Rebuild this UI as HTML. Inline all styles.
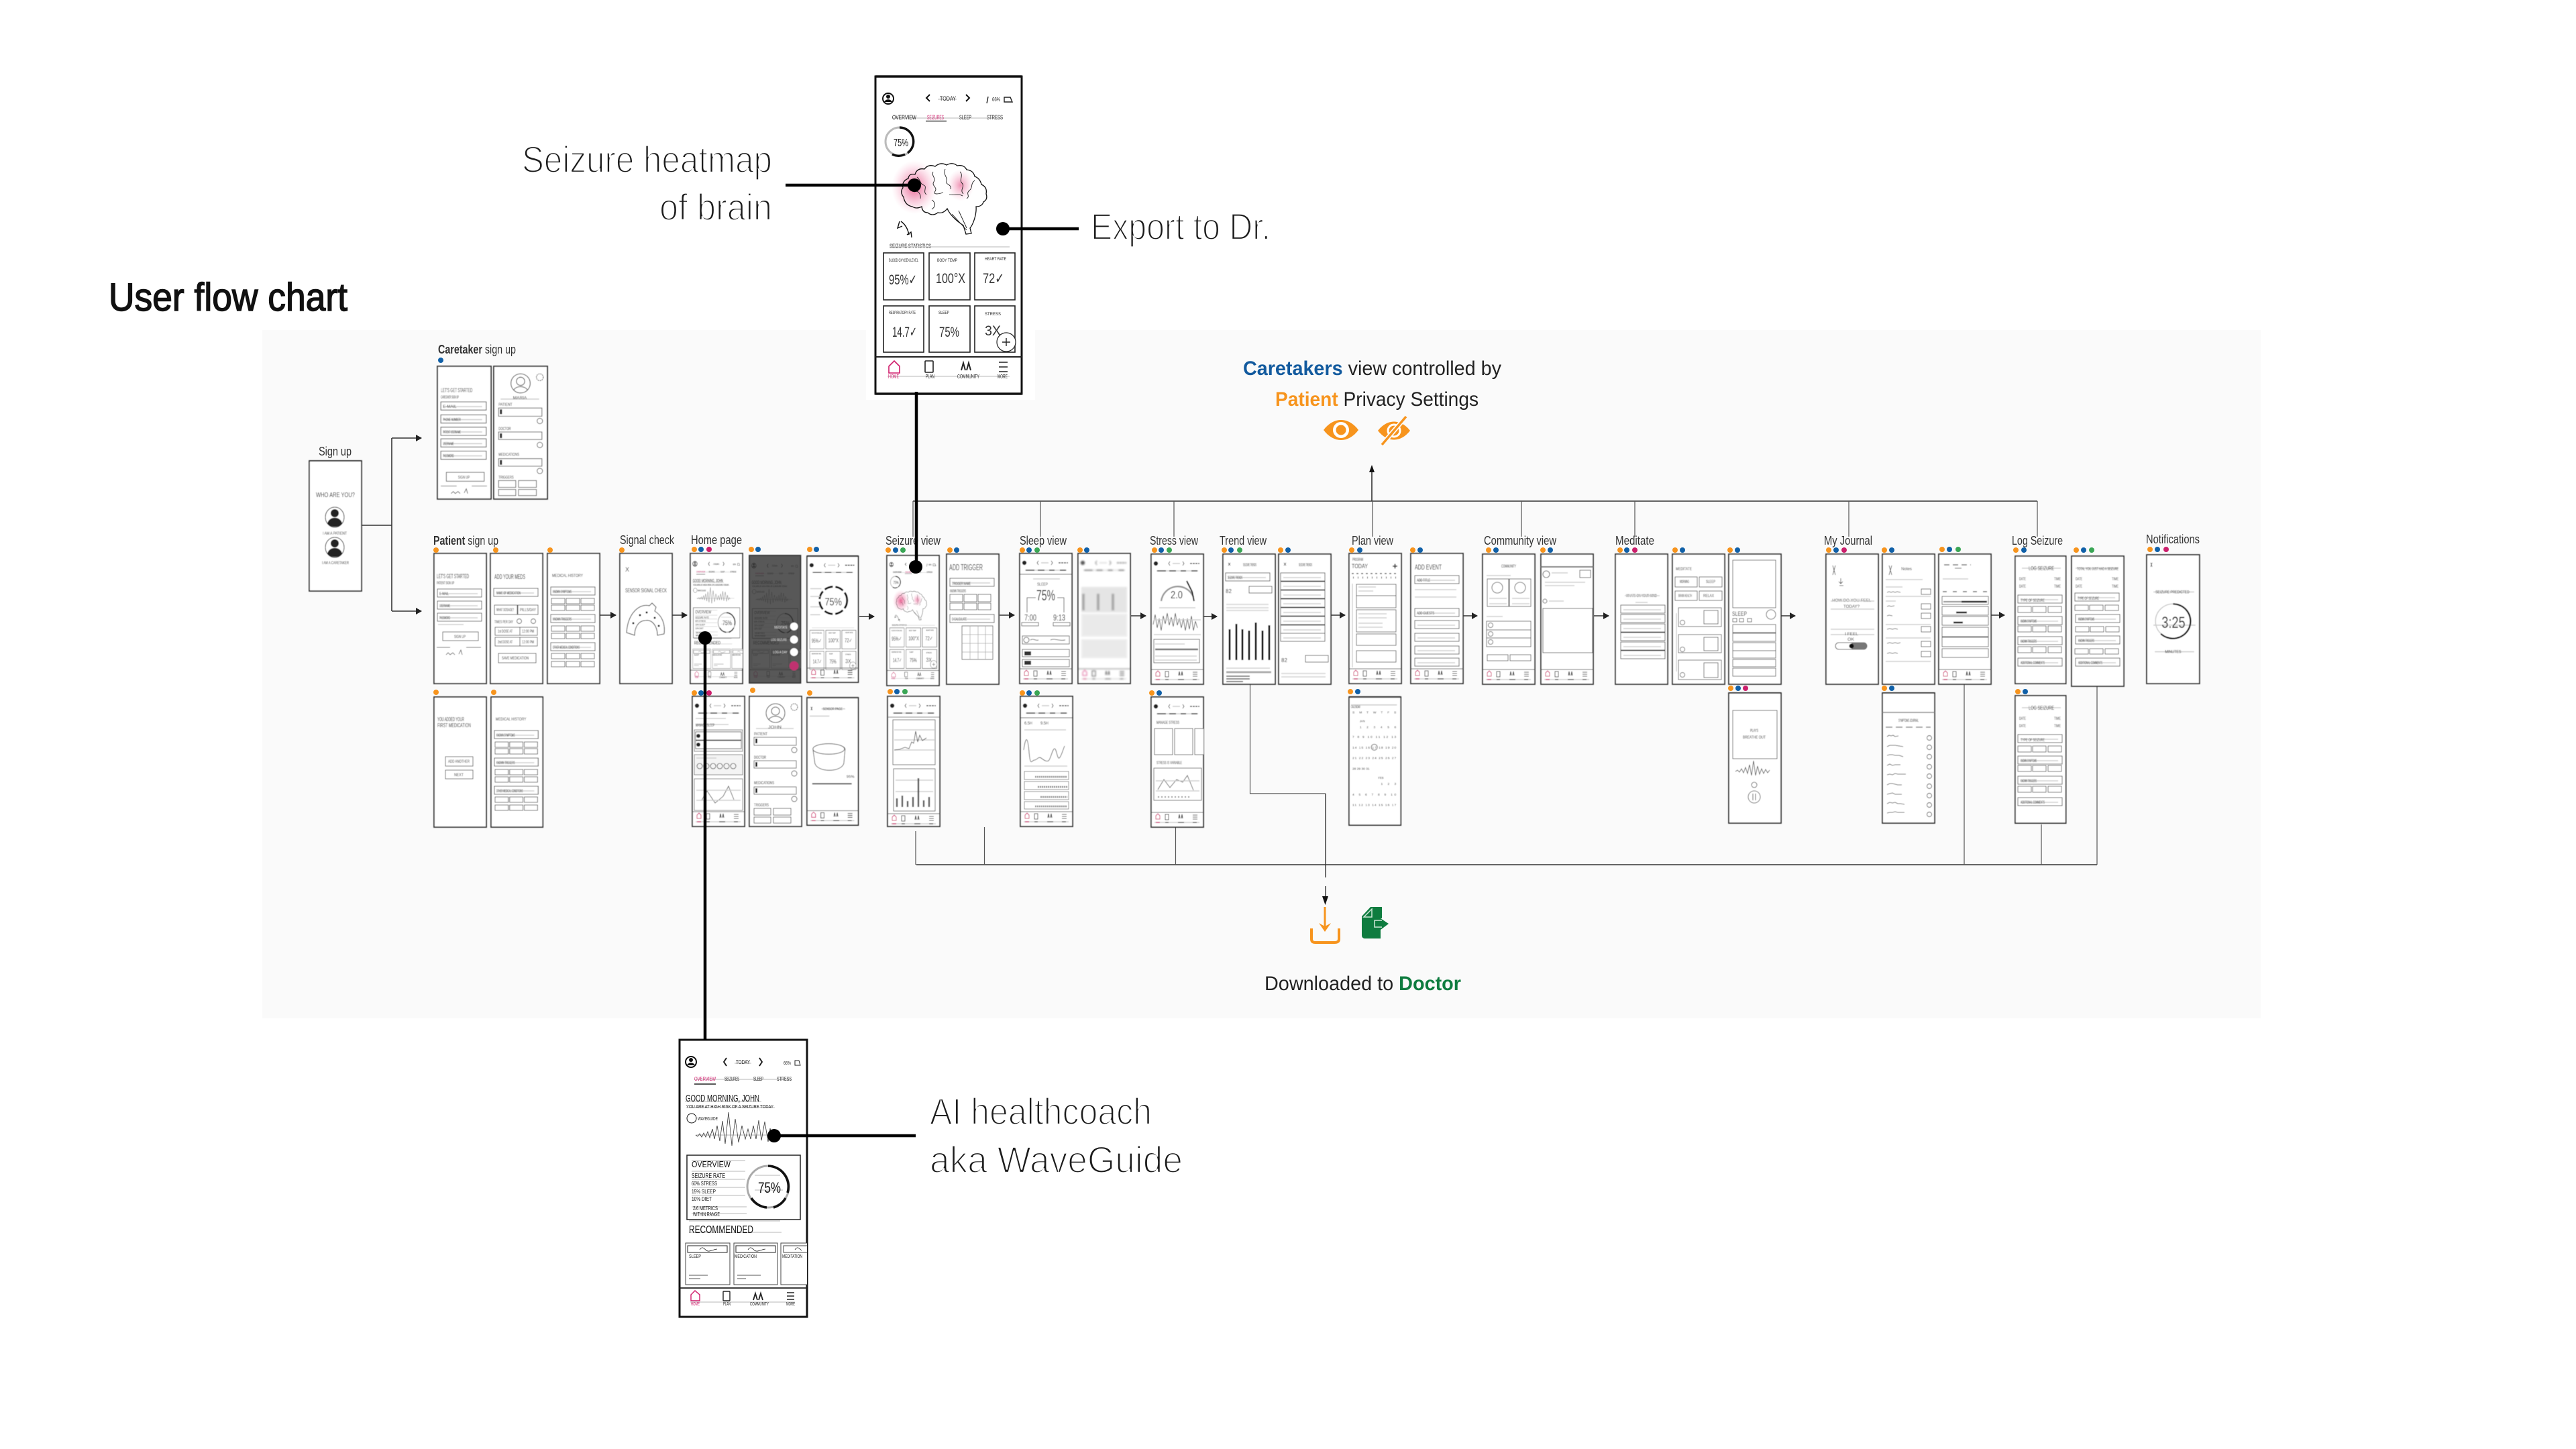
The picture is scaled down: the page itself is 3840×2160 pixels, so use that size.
<!DOCTYPE html>
<html lang="en"><head><meta charset="utf-8"><title>User flow chart</title>
<style>
html,body{margin:0;padding:0;background:#fff}
svg{display:block}
text{font-family:"Liberation Sans",sans-serif}
.t{font:6px "Liberation Sans Narrow","Liberation Sans",sans-serif;fill:#222}
.lb{font-size:18px;fill:#333}
.big{font-size:56px;fill:#1c1c1c;stroke:#fff;stroke-width:2.2}
.cp{font-size:30px;fill:#222}
.b{fill:none;stroke:#444;stroke-width:.9}
.w{fill:#fff;stroke:#444;stroke-width:.9}
.l{fill:none;stroke:#cfcfcf;stroke-width:1.6}
.k{fill:none;stroke:#222;stroke-width:.8}
.c{fill:none;stroke:#333;stroke-width:1.6}
.c2{fill:none;stroke:#555;stroke-width:1.2}
.th{fill:none;stroke:#000;stroke-width:4.5}
</style></head><body>
<svg xmlns="http://www.w3.org/2000/svg" width="3840" height="2160" viewBox="0 0 3840 2160">
<defs>
<radialGradient id="heat"><stop offset="0" stop-color="#e0306f" stop-opacity=".75"/><stop offset=".55" stop-color="#ee6d9c" stop-opacity=".35"/><stop offset="1" stop-color="#f7a9c4" stop-opacity="0"/></radialGradient>
<marker id="ar" markerUnits="userSpaceOnUse" markerWidth="9" markerHeight="10" refX="8" refY="5" orient="auto"><path d="M0 0L9 5L0 10z" fill="#222"/></marker>
<circle id="o" r="4" fill="#f7941d"/><circle id="u" r="4" fill="#1060a8"/><circle id="g" r="4" fill="#3aa655"/><circle id="p" r="4" fill="#cc1f6c"/>
<rect id="fr" width="78" height="194" fill="#fff" stroke="#333" stroke-width="1.8"/>
<g id="f"><rect width="66" height="12" fill="#fff" stroke="#444" stroke-width="1"/><path class="l" d="M4 7H60"/></g>
<g id="cl3"><rect class="w" width="20" height="8"/><rect class="w" x="22" width="20" height="8"/><rect class="w" x="44" width="20" height="8"/></g>
<g id="nav"><path d="M0 172H78" stroke="#555" stroke-width="1"/><path class="l" d="M5 187H72"/><path d="M7 182v-5l3-3 3 3v5z" fill="none" stroke="#d01c6b"/><rect x="21" y="175" width="5" height="8" fill="none" stroke="#222"/><path d="M41 181l1-6 1 6m2 0l1-6 1 6" stroke="#222" fill="none"/><path d="M62 176h7m-7 3h7m-7 3h7" stroke="#222"/><path d="M7 187h6" stroke="#d01c6b" stroke-width="1.4"/><path d="M21 187h5m14 0h9m13 0h6" stroke="#333" stroke-width="1.2"/></g>
<g id="hd"><circle cx="7" cy="14" r="3.2" fill="#222"/><path d="M28 11l-2 3 2 3m19-6l2 3-2 3" class="k"/><path class="l" d="M32 14h11"/><path d="M58 14h14" stroke="#444" stroke-width="1.6" stroke-dasharray="3 1"/><path class="l" d="M8 25H70"/><path d="M9 25h13m5 0h10m7 0h8m8 0h9" stroke="#333" stroke-width="1.4"/></g>
<g id="prof"><circle cx="39" cy="25" r="14" fill="none" stroke="#333"/><circle cx="39" cy="22" r="6" fill="none" stroke="#333"/><path d="M29 35c3-7 17-7 20 0" fill="none" stroke="#333"/><circle cx="67" cy="16" r="5" fill="none" stroke="#333" stroke-dasharray="2 1"/><path class="l" d="M10 48H66"/><text class="t" x="7" y="58" textLength="20" lengthAdjust="spacingAndGlyphs">PATIENT</text><rect class="w" x="7" y="61" width="63" height="12"/><rect x="9" y="63" width="3" height="7" fill="#222"/><circle class="b" cx="67" cy="80" r="4"/><text class="t" x="7" y="93" textLength="18" lengthAdjust="spacingAndGlyphs">DOCTOR</text><rect class="w" x="7" y="96" width="63" height="11"/><rect x="9" y="98" width="3" height="7" fill="#222"/><circle class="b" cx="67" cy="115" r="4"/><text class="t" x="7" y="131" textLength="30" lengthAdjust="spacingAndGlyphs">MEDICATIONS</text><rect class="w" x="7" y="135" width="63" height="11"/><rect x="9" y="137" width="3" height="7" fill="#222"/><circle class="b" cx="67" cy="153" r="4"/><text class="t" x="7" y="164" textLength="22" lengthAdjust="spacingAndGlyphs">TRIGGERS</text><rect class="w" x="7" y="167" width="25" height="10"/><rect class="w" x="36" y="167" width="26" height="10"/><rect class="w" x="7" y="180" width="25" height="9"/><rect class="w" x="36" y="180" width="26" height="9"/></g>
<g id="hist"><text class="t" x="7" y="35" font-size="8" textLength="46" lengthAdjust="spacingAndGlyphs">MEDICAL HISTORY</text><use href="#f" x="5" y="50"/><use href="#cl3" x="6" y="67"/><use href="#cl3" x="6" y="77"/><use href="#f" x="5" y="91"/><use href="#cl3" x="6" y="108"/><use href="#cl3" x="6" y="119"/><use href="#f" x="5" y="133"/><use href="#cl3" x="6" y="149"/><use href="#cl3" x="6" y="161"/><text class="t" x="8" y="59" textLength="28" lengthAdjust="spacingAndGlyphs">KNOWN SYMPTOMS</text><text class="t" x="8" y="100" textLength="28" lengthAdjust="spacingAndGlyphs">KNOWN TRIGGERS</text><text class="t" x="8" y="142" textLength="40" lengthAdjust="spacingAndGlyphs">OTHER MEDICAL CONDITIONS</text></g>
<g id="cards">
<path class="l" d="M21 254H200"/>
<g fill="#fff" stroke="#222" stroke-width="1.6"><rect x="12" y="263" width="60" height="70"/><rect x="80" y="263" width="61" height="70"/><rect x="148" y="263" width="60" height="70"/><rect x="12" y="342" width="60" height="69"/><rect x="80" y="342" width="61" height="69"/><rect x="148" y="342" width="60" height="69"/></g>
<g fill="#333" style="font-size:21px"><text x="20" y="310" textLength="42" lengthAdjust="spacingAndGlyphs">95%✓</text><text x="90" y="308" textLength="44" lengthAdjust="spacingAndGlyphs">100°X</text><text x="160" y="308" textLength="32" lengthAdjust="spacingAndGlyphs">72✓</text><text x="25" y="388" textLength="37" lengthAdjust="spacingAndGlyphs">14.7✓</text><text x="95" y="388" textLength="30" lengthAdjust="spacingAndGlyphs">75%</text><text x="163" y="386" textLength="24" lengthAdjust="spacingAndGlyphs">3X</text></g>
<g fill="#222" style="font-size:6px"><text x="20" y="276" textLength="44" lengthAdjust="spacingAndGlyphs">BLOOD OXYGEN LEVEL</text><text x="92" y="276" textLength="30" lengthAdjust="spacingAndGlyphs">BODY TEMP</text><text x="163" y="274" textLength="32" lengthAdjust="spacingAndGlyphs">HEART RATE</text><text x="20" y="354" textLength="40" lengthAdjust="spacingAndGlyphs">RESPIRATORY RATE</text><text x="94" y="354" textLength="16" lengthAdjust="spacingAndGlyphs">SLEEP</text><text x="163" y="356" textLength="24" lengthAdjust="spacingAndGlyphs">STRESS</text></g>
<circle cx="195" cy="396" r="14" fill="#fff" stroke="#222" stroke-width="1.2"/><path d="M189 396h12m-6-6v12" stroke="#222" stroke-width="1.4"/>
</g>
<g id="bigNav"><path d="M0 418H218" stroke="#222" stroke-width="2"/><path class="l" d="M18 447H200"/><path d="M20 442v-10l8-8 8 8v10z" fill="none" stroke="#d01c6b" stroke-width="1.6"/><rect x="74" y="424" width="12" height="17" rx="1" fill="none" stroke="#222" stroke-width="1.6"/><path d="M128 438l3-11 3 11m2 0l3-11 3 11" fill="none" stroke="#222" stroke-width="2"/><path d="M184 426h13m-13 7h13m-13 7h13" stroke="#222" stroke-width="1.6"/><text x="19" y="450" fill="#d01c6b" style="font-size:8px" textLength="16" lengthAdjust="spacingAndGlyphs">HOME</text><text x="75" y="450" fill="#222" style="font-size:8px" textLength="13" lengthAdjust="spacingAndGlyphs">PLAN</text><text x="122" y="450" fill="#222" style="font-size:8px" textLength="33" lengthAdjust="spacingAndGlyphs">COMMUNITY</text><text x="182" y="450" fill="#222" style="font-size:8px" textLength="15" lengthAdjust="spacingAndGlyphs">MORE</text></g>
<g id="seiz">
<circle cx="19" cy="33" r="8" fill="#fff" stroke="#111" stroke-width="2"/><circle cx="19" cy="30" r="3" fill="#111"/><path d="M13 38c2-5 10-5 12 0" fill="#111"/>
<path d="M81 27l-5 5 5 5M135 27l5 5-5 5" fill="none" stroke="#111" stroke-width="2"/><path class="l" d="M93 34h28"/><text x="96" y="36" fill="#222" style="font-size:9px" textLength="24" lengthAdjust="spacingAndGlyphs">TODAY</text><text x="174" y="37" fill="#222" style="font-size:8px" textLength="12" lengthAdjust="spacingAndGlyphs">66%</text><path d="M168 30l-2 10" stroke="#222" stroke-width="1.4"/><path d="M192 38v-7h9l3 7z" fill="none" stroke="#222" stroke-width="1.4"/>
<path class="l" d="M25 62H190"/><g style="font-size:9px"><text x="25" y="64" fill="#111" textLength="36" lengthAdjust="spacingAndGlyphs">OVERVIEW</text><text x="77" y="64" fill="#d01c6b" textLength="25" lengthAdjust="spacingAndGlyphs">SEIZURES</text><text x="125" y="64" fill="#222" textLength="18" lengthAdjust="spacingAndGlyphs">SLEEP</text><text x="166" y="64" fill="#222" textLength="24" lengthAdjust="spacingAndGlyphs">STRESS</text></g><path d="M75 66.500h31" stroke="#444" stroke-width="1.6"/>
<circle cx="36" cy="97" r="21" fill="none" stroke="#bbb" stroke-width="3"/><path d="M36 76a21 21 0 0 1 12 38M44 116a21 21 0 0 1-19 0" fill="none" stroke="#111" stroke-width="3.400"/><text x="27" y="104" fill="#111" style="font-size:16px" textLength="22" lengthAdjust="spacingAndGlyphs">75%</text>
<ellipse cx="58" cy="165" rx="34" ry="40" fill="url(#heat)"/><ellipse cx="127" cy="162" rx="20" ry="24" fill="url(#heat)" opacity=".7"/>
<path d="M42 180q-6-8-1-14q-2-10 8-14q1-8 10-6q3-10 14-8q6-8 16-4q8-7 17-2q9-5 16 1q10-2 14 6q10 1 12 10q8 3 10 12q9 4 7 14q3 8-4 12q-2 7-11 7C151 205 146 220 141 226L143 234L135 235L131 222C122 216 112 208 107 197q-6 8-14 6q-8 6-15 0q-8 0-9-9q-8 4-14 0q-11-2-13-14z" fill="none" stroke="#111" stroke-width="1.300"/>
<path d="M62 150c6 5 4 10 10 12s-2 10 4 14M86 142c-3 7 5 9 1 15s6 8 2 14 6 4 12 2M104 138c-4 8 4 12 2 18s8 4 6 12M126 142c6 6-2 12 3 17s-4 10 2 16M148 155c-7 5-2 10-8 15s2 8-4 12M58 172c6-3 10 4 9 10M84 184c6 4 6 10 0 14M114 205l22 24M124 200l12 26M110 176c8 2 14-2 20 2" fill="none" stroke="#222" stroke-width=".9"/>
<path d="M36 216l-3 10 7-3M38 216c6 4 10 10 12 20M54 240l-1-8-6 4" fill="none" stroke="#111" stroke-width="1.400"/>
<text x="21" y="256" fill="#222" style="font-size:9px" textLength="62" lengthAdjust="spacingAndGlyphs">SEIZURE STATISTICS</text>
<use href="#cards"/><use href="#bigNav"/>
</g>
<g id="home">
<circle cx="17" cy="33" r="8" fill="#fff" stroke="#111" stroke-width="2"/><circle cx="17" cy="30" r="3" fill="#111"/><path d="M11 38c2-5 10-5 12 0" fill="#111"/>
<path d="M70 27l-4 6 4 6M119 27l4 6-4 6" fill="none" stroke="#111" stroke-width="1.800"/><path class="l" d="M82 35h25"/><text x="84" y="36" fill="#222" style="font-size:8px" textLength="21" lengthAdjust="spacingAndGlyphs">TODAY</text><text x="155" y="37" fill="#222" style="font-size:7px" textLength="11" lengthAdjust="spacingAndGlyphs">66%</text><path d="M172 38v-7h6l2 7z" fill="none" stroke="#222"/>
<path class="l" d="M22 59H167"/><g style="font-size:8px"><text x="22" y="61" fill="#d01c6b" textLength="32" lengthAdjust="spacingAndGlyphs">OVERVIEW</text><text x="67" y="61" fill="#222" textLength="22" lengthAdjust="spacingAndGlyphs">SEIZURES</text><text x="110" y="61" fill="#222" textLength="15" lengthAdjust="spacingAndGlyphs">SLEEP</text><text x="145" y="61" fill="#222" textLength="22" lengthAdjust="spacingAndGlyphs">STRESS</text></g><path d="M22 66h32" stroke="#222" stroke-width="1.400"/>
<path class="l" d="M8 92H122M10 101H142"/><text x="9" y="92" fill="#111" style="font-size:15px" textLength="110" lengthAdjust="spacingAndGlyphs">GOOD MORNING, JOHN</text><text x="10" y="102" fill="#111" style="font-size:7px" textLength="130" lengthAdjust="spacingAndGlyphs">YOU ARE AT HIGH RISK OF A SEIZURE TODAY</text>
<circle cx="18" cy="117" r="7" fill="none" stroke="#111"/><text x="27" y="120" fill="#222" style="font-size:7px" textLength="30" lengthAdjust="spacingAndGlyphs">WAVEGUIDE</text>
<path d="M24 142l3 2 3-4 3 5 3-6 3 6 3-8 3 9 4-13 3 15 4-20 4 23 4-30 4 34 5-47 5 50 5-40 5 35 5-25 5 20 4-15 4 15 4-20 4 20 4-28 4 30 5-28 5 30 3-20 4 16 3-8 3 5" fill="none" stroke="#333" stroke-width=".8"/><path d="M24 142H160" stroke="#666" stroke-width=".6"/>
<rect x="11" y="172" width="169" height="96" fill="#fff" stroke="#222" stroke-width="1.500"/>
<path class="l" d="M18 180H98M18 196H98M18 208H98M18 220H98M18 232H98M18 249H100M18 259H100"/>
<g fill="#111"><text x="18" y="190" style="font-size:13px" textLength="58" lengthAdjust="spacingAndGlyphs">OVERVIEW</text><text x="18" y="206" style="font-size:10px" textLength="50" lengthAdjust="spacingAndGlyphs">SEIZURE RATE</text><text x="18" y="217" style="font-size:8px" textLength="38" lengthAdjust="spacingAndGlyphs">60% STRESS</text><text x="18" y="229" style="font-size:8px" textLength="36" lengthAdjust="spacingAndGlyphs">15% SLEEP</text><text x="18" y="240" style="font-size:8px" textLength="30" lengthAdjust="spacingAndGlyphs">10% DIET</text><text x="20" y="254" style="font-size:8px" textLength="37" lengthAdjust="spacingAndGlyphs">2/6 METRICS</text><text x="20" y="263" style="font-size:8px" textLength="40" lengthAdjust="spacingAndGlyphs">WITHIN RANGE</text></g>
<circle cx="132" cy="219" r="31" fill="none" stroke="#aaa" stroke-width="3"/><path d="M132 188a31 31 0 0 1 29 40M158 236a31 31 0 0 1-18 14M130 250a31 31 0 0 1-23-14" fill="none" stroke="#111" stroke-width="3.600"/><path class="l" d="M112 202h38M112 224h42"/><text x="117" y="228" fill="#111" style="font-size:22px" textLength="34" lengthAdjust="spacingAndGlyphs">75%</text>
<path class="l" d="M14 270H150M14 287H152"/><text x="14" y="288" fill="#111" style="font-size:16px" textLength="96" lengthAdjust="spacingAndGlyphs">RECOMMENDED</text>
<g fill="#fff" stroke="#444"><rect x="9" y="303" width="66" height="62"/><rect x="81" y="303" width="65" height="62"/><path d="M190 303H151V365H190"/><rect x="12" y="307" width="59" height="10" stroke="#222"/><rect x="84" y="307" width="59" height="10" stroke="#222"/><path d="M190 307H155V317H190"/></g>
<path d="M30 313c4-6 6-2 10 1s8-1 16-2M102 313c4-6 6-2 10 1s8-1 16-2M172 313c4-6 6-2 10 1" fill="none" stroke="#222" stroke-width=".8"/>
<g fill="#222" style="font-size:7px"><text x="14" y="325" textLength="18" lengthAdjust="spacingAndGlyphs">SLEEP</text><text x="82" y="325" textLength="33" lengthAdjust="spacingAndGlyphs">MEDICATION</text><text x="153" y="325" textLength="30" lengthAdjust="spacingAndGlyphs">MEDITATION</text></g>
<path d="M14 351h28M14 356h17M86 351h35M86 356h13" stroke="#555"/>
<path d="M0 370H190" stroke="#222" stroke-width="1.800"/><path class="l" d="M16 391H172"/><path d="M17 389v-9l6-6 7 6v9z" fill="none" stroke="#d01c6b" stroke-width="1.400"/><rect x="65" y="375" width="10" height="14" rx="1" fill="none" stroke="#222" stroke-width="1.400"/><path d="M110 388l3-10 3 10m2 0l3-10 3 10" fill="none" stroke="#222" stroke-width="1.800"/><path d="M160 377h11m-11 5h11m-11 5h11" stroke="#222" stroke-width="1.400"/><g style="font-size:7px"><text x="17" y="396" fill="#d01c6b" textLength="13" lengthAdjust="spacingAndGlyphs">HOME</text><text x="65" y="396" fill="#222" textLength="11" lengthAdjust="spacingAndGlyphs">PLAN</text><text x="105" y="396" fill="#222" textLength="28" lengthAdjust="spacingAndGlyphs">COMMUNITY</text><text x="159" y="396" fill="#222" textLength="13" lengthAdjust="spacingAndGlyphs">MORE</text></g>
</g>
<filter id="bl"><feGaussianBlur stdDeviation="1.100"/></filter>
<filter id="sb" filterUnits="userSpaceOnUse" x="0" y="0" width="3840" height="2160"><feGaussianBlur stdDeviation=".45"/></filter>
</defs>
<rect width="3840" height="2160" fill="#fff"/>
<rect x="391" y="492" width="2979" height="1026" fill="#fafafa"/>
<text x="162" y="463" fill="#111" font-size="58" stroke="#111" stroke-width="1.500" textLength="356" lengthAdjust="spacingAndGlyphs">User flow chart</text>
<text class="big" x="778" y="257" textLength="373" lengthAdjust="spacingAndGlyphs">Seizure heatmap</text>
<text class="big" x="983" y="328" textLength="168" lengthAdjust="spacingAndGlyphs">of brain</text>
<text class="big" x="1626" y="357" textLength="268" lengthAdjust="spacingAndGlyphs">Export to Dr.</text>
<text class="big" x="1386" y="1676" textLength="331" lengthAdjust="spacingAndGlyphs">AI healthcoach</text>
<text class="big" x="1386" y="1748" textLength="377" lengthAdjust="spacingAndGlyphs">aka WaveGuide</text>

<!-- labels -->
<g class="lb">
<text x="475" y="679" textLength="49" lengthAdjust="spacingAndGlyphs">Sign up</text>
<text x="653" y="527" textLength="116" lengthAdjust="spacingAndGlyphs"><tspan font-weight="700">Caretaker</tspan> sign up</text>
<text x="646" y="812" textLength="97" lengthAdjust="spacingAndGlyphs"><tspan font-weight="700">Patient</tspan> sign up</text>
<text x="924" y="811" textLength="81" lengthAdjust="spacingAndGlyphs">Signal check</text>
<text x="1030" y="811" textLength="76" lengthAdjust="spacingAndGlyphs">Home page</text>
<text x="1320" y="812" textLength="82" lengthAdjust="spacingAndGlyphs">Seizure view</text>
<text x="1520" y="812" textLength="70" lengthAdjust="spacingAndGlyphs">Sleep view</text>
<text x="1714" y="812" textLength="72" lengthAdjust="spacingAndGlyphs">Stress view</text>
<text x="1818" y="812" textLength="70" lengthAdjust="spacingAndGlyphs">Trend view</text>
<text x="2015" y="812" textLength="62" lengthAdjust="spacingAndGlyphs">Plan view</text>
<text x="2212" y="812" textLength="108" lengthAdjust="spacingAndGlyphs">Community view</text>
<text x="2408" y="812" textLength="58" lengthAdjust="spacingAndGlyphs">Meditate</text>
<text x="2719" y="812" textLength="72" lengthAdjust="spacingAndGlyphs">My Journal</text>
<text x="2999" y="812" textLength="76" lengthAdjust="spacingAndGlyphs">Log Seizure</text>
<text x="3199" y="810" textLength="80" lengthAdjust="spacingAndGlyphs">Notifications</text>
</g>
<text class="cp" x="1853" y="559" textLength="385" lengthAdjust="spacingAndGlyphs"><tspan fill="#125a9e" font-weight="700">Caretakers</tspan> view controlled by</text>
<text class="cp" x="1901" y="605" textLength="303" lengthAdjust="spacingAndGlyphs"><tspan fill="#f7941d" font-weight="700">Patient</tspan> Privacy Settings</text>
<text class="cp" x="1885" y="1476" textLength="293" lengthAdjust="spacingAndGlyphs">Downloaded to <tspan fill="#0e7c3f" font-weight="700">Doctor</tspan></text>
<!-- eye icons -->
<path d="M1973 641C1988 621 2010 621 2025 641C2010 661 1988 661 1973 641z" fill="#f7941d"/><circle cx="1999" cy="641" r="12" fill="#fff"/><circle cx="1999" cy="641" r="7.500" fill="#f7941d"/>
<path d="M2054 642C2068 624 2088 624 2102 642C2088 660 2068 660 2054 642z" fill="#f7941d"/><circle cx="2078" cy="642" r="9" fill="none" stroke="#fff" stroke-width="3"/><path d="M2096 621L2060 663" stroke="#fafafa" stroke-width="7"/><path d="M2096 621L2060 663" stroke="#f7941d" stroke-width="3.500"/>
<!-- download icons -->
<path d="M1975 1352V1386" stroke="#f7941d" stroke-width="3"/><path d="M1966 1376L1975 1389L1984 1376L1975 1381z" fill="#f7941d"/><path d="M1955 1384V1400Q1955 1405 1961 1405H1989Q1996 1405 1996 1400V1384" fill="none" stroke="#f7941d" stroke-width="4"/>
<path d="M2043 1352H2060V1369L2058 1369L2070 1377L2058 1386V1399H2035Q2030 1399 2030 1394V1366z" fill="#0e7c3f"/><path d="M2045 1355L2033 1367H2045z" fill="none" stroke="#cfe6d7" stroke-width="1.500"/><path d="M2060 1372H2049V1382H2060" fill="none" stroke="#cfe6d7" stroke-width="1.500"/>

<!-- thin connectors -->
<g class="c">
<path d="M539 783H584M584 653V911"/>
<path d="M584 653H628" marker-end="url(#ar)"/><path d="M584 911H628" marker-end="url(#ar)"/>
<path d="M894 917H918" marker-end="url(#ar)"/><path d="M1001 917H1024" marker-end="url(#ar)"/><path d="M1281 919H1303" marker-end="url(#ar)"/><path d="M1490 917H1512" marker-end="url(#ar)"/><path d="M1686 918H1708" marker-end="url(#ar)"/><path d="M1794 919H1814" marker-end="url(#ar)"/><path d="M1984 917H2005" marker-end="url(#ar)"/><path d="M2180 918H2202" marker-end="url(#ar)"/><path d="M2376 918H2398" marker-end="url(#ar)"/><path d="M2655 918H2676" marker-end="url(#ar)"/><path d="M2968 917H2988" marker-end="url(#ar)"/>
<path d="M1366 1289H3126"/>
<path d="M1361 747H3037M2045 747V700"/>
<path d="M1976 1183V1308M1976 1321V1340" stroke-width="1.400"/><path d="M1971 1336L1975.500 1349L1980 1336z" fill="#111" stroke="none"/><path d="M2041 704L2045 693L2049 704z" fill="#111" stroke="none"/>
</g>
<g class="c2">
<path d="M1361 747V800M1551 747V800M1750 747V800M2046 747V800M2268 747V800M2437 747V800M2756 747V800M3037 747V800"/>
<path d="M1863.500 1018V1183H1976"/>
<path d="M1365 1239V1289M1467.500 1233V1289M1752.500 1231V1289M2928 1018V1289M3043 1229V1289M3126 1022V1289"/>
</g>

<g filter="url(#sb)">
<!-- Sign up -->
<g transform="translate(461,687)"><use href="#fr"/><path d="M0 0H78" stroke="#333" stroke-width="2"/><text x="10" y="54" style="font-size:10px" fill="#222" textLength="58" lengthAdjust="spacingAndGlyphs">WHO ARE YOU?</text><ellipse cx="38" cy="84" rx="14" ry="15" fill="#fff" stroke="#222"/><path d="M27 93c3-11 19-11 22 0c-4 7-18 7-22 0z" fill="#222"/><circle cx="38" cy="78" r="6" fill="#222"/><text class="t" x="20" y="110" textLength="36" lengthAdjust="spacingAndGlyphs">I AM A PATIENT</text><ellipse cx="38" cy="129" rx="14" ry="15" fill="#fff" stroke="#222"/><path d="M27 138c3-11 19-11 22 0c-4 7-18 7-22 0z" fill="#222"/><circle cx="38" cy="123" r="6" fill="#222"/><text class="t" x="19" y="154" textLength="40" lengthAdjust="spacingAndGlyphs">I AM A CARETAKER</text></g>
<!-- Caretaker 1 -->
<g transform="translate(652,546) scale(1.026,1.02)"><use href="#fr"/><text x="5" y="38" style="font-size:8px" fill="#222" textLength="46" lengthAdjust="spacingAndGlyphs">LET'S GET STARTED</text><text class="t" x="5" y="47" textLength="26" lengthAdjust="spacingAndGlyphs">CAREGIVER SIGN UP</text><use href="#f" x="5" y="52"/><use href="#f" x="5" y="71"/><use href="#f" x="5" y="89"/><use href="#f" x="5" y="106"/><use href="#f" x="5" y="124"/><text class="t" x="8" y="61">E-MAIL</text><text class="t" x="8" y="80" textLength="26" lengthAdjust="spacingAndGlyphs">PHONE NUMBER</text><text class="t" x="8" y="98" textLength="26" lengthAdjust="spacingAndGlyphs">PATIENT USERNAME</text><text class="t" x="8" y="115" textLength="16" lengthAdjust="spacingAndGlyphs">USERNAME</text><text class="t" x="8" y="133" textLength="16" lengthAdjust="spacingAndGlyphs">PASSWORD</text><rect class="w" x="13" y="155" width="55" height="13"/><text class="t" x="30" y="164" textLength="17" lengthAdjust="spacingAndGlyphs">SIGN UP</text><path d="M5 175H28M50 175H72M20 186l3-3 3 3 4-3 3 3m6-1l3-6 2 7" class="k"/></g>
<g transform="translate(736,546) scale(1.026,1.02)"><use href="#fr"/><use href="#prof"/><text class="t" x="28" y="48" textLength="20" lengthAdjust="spacingAndGlyphs">MARIA</text></g>
<!-- Patient 1 -->
<g transform="translate(647,825)"><use href="#fr"/><text x="4" y="37" style="font-size:9px" fill="#222" textLength="48" lengthAdjust="spacingAndGlyphs">LET'S GET STARTED</text><text class="t" x="4" y="46" textLength="26" lengthAdjust="spacingAndGlyphs">PATIENT SIGN UP</text><use href="#f" x="5" y="53"/><use href="#f" x="5" y="71"/><use href="#f" x="5" y="89"/><text class="t" x="8" y="62" textLength="14" lengthAdjust="spacingAndGlyphs">E-MAIL</text><text class="t" x="8" y="80" textLength="16" lengthAdjust="spacingAndGlyphs">USERNAME</text><text class="t" x="8" y="98" textLength="16" lengthAdjust="spacingAndGlyphs">PASSWORD</text><path class="l" d="M6 106H44"/><rect class="w" x="13" y="117" width="53" height="13"/><text class="t" x="30" y="126" textLength="17" lengthAdjust="spacingAndGlyphs">SIGN UP</text><path d="M4 140H24M48 140H70M18 151l3-3 3 3 4-3 3 3m6-1l3-6 2 7" class="k"/></g>
<g transform="translate(731,825)"><use href="#fr"/><text x="6" y="38" style="font-size:10px" fill="#222" textLength="46" lengthAdjust="spacingAndGlyphs">ADD YOUR MEDS</text><use href="#f" x="5" y="52"/><text class="t" x="9" y="61" textLength="36" lengthAdjust="spacingAndGlyphs">NAME OF MEDICATION</text><rect class="w" x="6" y="77" width="34" height="14"/><rect class="w" x="41" y="77" width="30" height="14"/><text class="t" x="9" y="86" textLength="26" lengthAdjust="spacingAndGlyphs">WHAT DOSAGE?</text><text class="t" x="44" y="86" textLength="24" lengthAdjust="spacingAndGlyphs">PILLS/DAY</text><text class="t" x="6" y="104" textLength="28" lengthAdjust="spacingAndGlyphs">TIMES PER DAY</text><circle class="b" cx="43" cy="101" r="3.500"/><circle class="b" cx="64" cy="101" r="3.500"/><rect class="w" x="7" y="110" width="63" height="12"/><path class="k" d="M44 110v12"/><rect class="w" x="7" y="125" width="63" height="13"/><path class="k" d="M44 125v13"/><text class="t" x="11" y="118" textLength="22" lengthAdjust="spacingAndGlyphs">1st DOSE AT</text><text class="t" x="11" y="134" textLength="22" lengthAdjust="spacingAndGlyphs">2nd DOSE AT</text><text class="t" x="47" y="118" textLength="18" lengthAdjust="spacingAndGlyphs">12:00 PM</text><text class="t" x="47" y="134" textLength="18" lengthAdjust="spacingAndGlyphs">12:00 PM</text><rect class="w" x="12" y="149" width="56" height="14"/><text class="t" x="17" y="158" textLength="40" lengthAdjust="spacingAndGlyphs">SAVE MEDICATION</text></g>
<g transform="translate(816,825)"><use href="#fr"/><use href="#hist"/></g>
<g transform="translate(924,825)"><use href="#fr"/><text class="t" x="8" y="27" style="font-size:9px">X</text><text x="8" y="58" style="font-size:8px" fill="#222" textLength="62" lengthAdjust="spacingAndGlyphs">SENSOR SIGNAL CHECK</text><path d="M10 118C12 88 30 74 44 78L48 74L54 80L52 86C62 92 68 104 66 120L56 122C56 108 48 98 38 100C28 100 22 110 22 122z" fill="#fff" stroke="#222"/><circle cx="20" cy="104" r="1.500"/><circle cx="30" cy="92" r="1.500"/><circle cx="40" cy="88" r="1.500"/><circle cx="52" cy="96" r="1.500"/><circle cx="58" cy="108" r="1.500"/></g>
<g transform="translate(647,1039)"><use href="#fr"/><text x="5" y="36" style="font-size:8px" fill="#222" textLength="40" lengthAdjust="spacingAndGlyphs">YOU ADDED YOUR</text><text x="5" y="45" style="font-size:8px" fill="#222" textLength="50" lengthAdjust="spacingAndGlyphs">FIRST MEDICATION</text><rect class="w" x="17" y="89" width="41" height="14"/><text class="t" x="21" y="98" textLength="32" lengthAdjust="spacingAndGlyphs">ADD ANOTHER</text><rect class="w" x="17" y="109" width="41" height="13"/><text class="t" x="30" y="118" textLength="14" lengthAdjust="spacingAndGlyphs">NEXT</text></g>
<g transform="translate(732,1039) scale(.99,1)"><use href="#fr"/><use href="#hist"/></g>

<!-- Home group -->
<g transform="translate(1029,825)"><use href="#fr"/><use href="#home" transform="scale(.41,.47)"/></g>
<g transform="translate(1117,828) scale(.98,.98)"><use href="#fr"/><use href="#home" transform="scale(.41,.47)"/><rect width="78" height="194" fill="#333" opacity=".82"/><circle cx="68" cy="108" r="6" fill="#fff"/><circle cx="68" cy="128" r="6" fill="#fff"/><circle cx="68" cy="147" r="6" fill="#fff"/><circle cx="68" cy="168" r="7" fill="#c0306f"/><text class="t" x="38" y="111" style="fill:#ddd" textLength="20" lengthAdjust="spacingAndGlyphs">MEDITATE</text><text class="t" x="33" y="130" style="fill:#ddd" textLength="24" lengthAdjust="spacingAndGlyphs">LOG SEIZURE</text><text class="t" x="36" y="149" style="fill:#ddd" textLength="22" lengthAdjust="spacingAndGlyphs">LOG A DAY</text></g>
<g transform="translate(1203,829) scale(.98,.97)"><use href="#fr"/><use href="#hd"/><path d="M0 0H78" stroke="#333" stroke-width="2.400"/><circle cx="40" cy="68" r="21" fill="none" stroke="#111" stroke-width="3" stroke-dasharray="13 4"/><path class="l" d="M5 50H22M5 62H20M5 78H20M5 90H20"/><text x="27" y="76" fill="#111" style="font-size:16px" textLength="26" lengthAdjust="spacingAndGlyphs">75%</text><use href="#cards" transform="translate(0,6) scale(.358,.41)"/><use href="#nav"/></g>
<g transform="translate(1032,1038)"><use href="#fr"/><use href="#hd"/><path class="l" d="M5 33H50M5 42H54"/><text class="t" x="5" y="45" textLength="28" lengthAdjust="spacingAndGlyphs">MANAGE SLEEP</text><rect x="3" y="50" width="72" height="32" fill="#f4f4f4" stroke="#777"/><rect class="w" x="5" y="53" width="68" height="12"/><rect class="w" x="5" y="66" width="68" height="12"/><circle cx="9" cy="59" r="3" fill="#222"/><circle cx="9" cy="72" r="3" fill="#222"/><rect x="3" y="87" width="72" height="30" fill="#f4f4f4" stroke="#777"/><g class="k"><circle cx="11" cy="104" r="4"/><circle cx="21" cy="104" r="4"/><circle cx="31" cy="104" r="4"/><circle cx="41" cy="104" r="4"/><circle cx="51" cy="104" r="4"/><circle cx="61" cy="104" r="4"/></g><path class="l" d="M6 92H36"/><rect x="3" y="123" width="72" height="47" fill="#fff" stroke="#777"/><path d="M14 155l8-14 12 18 12-10 8-15 8 20" class="k"/><path class="l" d="M6 140H72M6 155H72"/><use href="#nav"/></g>
<g transform="translate(1117,1038)"><use href="#fr"/><use href="#prof"/><text class="t" x="28" y="48" textLength="20" lengthAdjust="spacingAndGlyphs">JOHN</text></g>
<g transform="translate(1203,1040) scale(.98,.98)"><use href="#fr"/><path d="M0 0H78" stroke="#444" stroke-width="2.400"/><path class="k" d="M6 14l2 5m0-5l-2 5"/><path class="l" d="M22 17H58M4 28H34"/><text class="t" x="24" y="19" textLength="30" lengthAdjust="spacingAndGlyphs">SENSOR PAGE</text><path d="M9 78C10 68 56 68 58 78L56 100C52 114 16 114 12 100z" fill="#fff" stroke="#555"/><ellipse cx="33" cy="78" rx="24" ry="8" fill="#fff" stroke="#555"/><text class="t" x="60" y="122" textLength="12" lengthAdjust="spacingAndGlyphs">95%</text><path d="M8 131H68" stroke="#555" stroke-width="2"/><use href="#nav"/></g>

<!-- Seizure group -->
<g transform="translate(1322,828)"><use href="#fr"/><use href="#seiz" transform="scale(.358,.41)"/></g>
<g transform="translate(1411,826)"><use href="#fr"/><text x="4" y="24" style="font-size:13px" fill="#222" textLength="50" lengthAdjust="spacingAndGlyphs">ADD TRIGGER</text><use href="#f" x="5" y="36"/><text class="t" x="8" y="46" textLength="28" lengthAdjust="spacingAndGlyphs">TRIGGER NAME</text><text class="t" x="5" y="57" textLength="24" lengthAdjust="spacingAndGlyphs">KNOWN TRIGGERS</text><g class="w"><rect x="5" y="60" width="19" height="11"/><rect x="26" y="60" width="19" height="11"/><rect x="47" y="60" width="19" height="11"/><rect x="5" y="73" width="19" height="10"/><rect x="26" y="73" width="19" height="10"/><rect x="47" y="73" width="19" height="10"/></g><use href="#f" x="5" y="90"/><text class="t" x="8" y="99" textLength="22" lengthAdjust="spacingAndGlyphs">O CALCULATE</text><rect class="w" x="23" y="107" width="46" height="50"/><path d="M35 107V157M47 107V157M58 107V157M23 120H69M23 133H69M23 146H69" fill="none" stroke="#aaa" stroke-width=".8"/></g>
<g transform="translate(1323,1038)"><use href="#fr"/><use href="#hd"/><path d="M0 31H78" stroke="#666"/><rect class="b" x="8" y="35" width="63" height="67"/><path class="l" d="M10 50H70M10 65H70M10 80H70"/><path class="k" d="M10 80l8-1 8-3 6 2 4-10 3 2 3-18 3 16 3-10 4 8 6-4"/><rect class="b" x="9" y="108" width="62" height="63"/><path class="l" d="M12 125H68M12 142H68"/><path stroke="#555" stroke-width="2.400" d="M14 165V152M22 165V148M30 165V156M38 165V150M46 165V122M54 165V155M62 165V150"/><use href="#nav" transform="translate(0,3)"/></g>

<!-- Sleep group -->
<g transform="translate(1520,825)"><use href="#fr"/><use href="#hd"/><path d="M0 31H78" stroke="#444"/><path class="l" d="M20 38H60"/><text class="t" x="26" y="48" textLength="16" lengthAdjust="spacingAndGlyphs">SLEEP</text><text x="25" y="70" fill="#111" style="font-size:22px" textLength="28" lengthAdjust="spacingAndGlyphs">75%</text><path class="k" d="M11 88V66H24M56 66H66V88"/><text x="7" y="100" fill="#222" style="font-size:13px" textLength="18" lengthAdjust="spacingAndGlyphs">7:00</text><text x="50" y="100" fill="#222" style="font-size:13px" textLength="18" lengthAdjust="spacingAndGlyphs">9:13</text><rect class="w" x="3" y="103" width="25" height="5"/><rect class="w" x="50" y="103" width="25" height="5"/><rect class="w" x="4" y="123" width="70" height="12"/><circle class="k" cx="10" cy="129" r="4"/><path class="k" d="M16 129c5-3 8 2 12 0M46 129c6-3 12 2 22 0"/><rect class="w" x="4" y="143" width="70" height="11"/><rect class="w" x="4" y="158" width="70" height="11"/><rect x="7" y="146" width="10" height="6" fill="#333"/><rect x="7" y="160" width="10" height="6" fill="#333"/><use href="#nav"/></g>
<g transform="translate(1607,825)"><use href="#fr"/><g filter="url(#bl)" opacity=".75"><use href="#hd"/><rect x="5" y="50" width="68" height="38" fill="#ddd"/><rect x="5" y="90" width="68" height="34" fill="#e4e4e4"/><rect x="5" y="128" width="68" height="28" fill="#e4e4e4"/><path d="M8 60V85M30 60V85M52 60V85" stroke="#888" stroke-width="4"/><use href="#nav"/></g></g>
<g transform="translate(1521,1038)"><use href="#fr"/><use href="#hd"/><path d="M0 32H78" stroke="#444"/><text class="t" x="6" y="42" textLength="12" lengthAdjust="spacingAndGlyphs">6.5H</text><text class="t" x="30" y="42" textLength="12" lengthAdjust="spacingAndGlyphs">9.5H</text><path class="l" d="M6 50H68"/><path class="k" d="M5 80c3-22 6-20 8 3s4 12 8 12 6-6 10-3 8 6 11 4 6-18 9-18 4 16 7 14 6-14 8-18"/><path class="l" d="M6 104H70"/><g fill="#fff" stroke="#666" stroke-width=".8"><rect x="6" y="112" width="66" height="12"/><rect x="6" y="127" width="66" height="12"/><rect x="6" y="142" width="66" height="12"/><rect x="6" y="157" width="66" height="11"/></g><path d="M22 120H70M26 135H70M30 150H70M22 164H70" stroke="#777" stroke-width="2.400" stroke-dasharray="2 1"/><use href="#nav"/></g>

<!-- Stress group -->
<g transform="translate(1716,826)"><use href="#fr"/><use href="#hd"/><path d="M15 70a25 25 0 0 1 48-6" fill="none" stroke="#999" stroke-width="2.400"/><path d="M53 40l8 16 3 14" fill="none" stroke="#111" stroke-width="2"/><text x="29" y="66" fill="#111" style="font-size:16px" textLength="18" lengthAdjust="spacingAndGlyphs">2.0</text><path class="l" d="M12 80H66"/><path class="k" stroke-width=".7" d="M3 105l3-15 3 20 3-14 3 18 3-22 3 12 3-16 3 18 3-12 3 14 3-20 3 18 3-10 3 14 3-14 3 18 3-18 3 16 3-20 3 22 3-14 3 10"/><path class="l" d="M4 120H74M4 98H74"/><rect class="w" x="4" y="127" width="68" height="35"/><path d="M6 142H70" stroke="#777" stroke-width="2.400"/><path class="l" d="M6 134H50M6 152H68M6 158H68"/><use href="#nav"/></g>
<g transform="translate(1716,1039)"><use href="#fr"/><use href="#hd"/><text class="t" x="8" y="40" textLength="34" lengthAdjust="spacingAndGlyphs">MANAGE STRESS</text><g class="w"><rect x="5" y="47" width="27" height="39"/><rect x="35" y="47" width="27" height="39"/><path d="M78 47H65V86H78"/></g><text class="t" x="8" y="100" textLength="38" lengthAdjust="spacingAndGlyphs">STRESS IS VARIABLE</text><rect class="w" x="4" y="106" width="71" height="48"/><path class="k" d="M10 138l9-15 9 12 10-12 9 4 7-10 9 22"/><path class="l" d="M7 125H72M7 140H72"/><path d="M10 149h50" stroke="#555" stroke-dasharray="2 3" stroke-width="1.500"/><use href="#nav"/></g>

<!-- Trend group -->
<g transform="translate(1823,826)"><use href="#fr"/><path class="k" d="M8 13l3 4m0-4l-3 4"/><text class="t" x="30" y="18" textLength="20" lengthAdjust="spacingAndGlyphs">SEIZURE TRENDS</text><use href="#f" x="4" y="28"/><text class="t" x="7" y="37" textLength="22" lengthAdjust="spacingAndGlyphs">SEIZURE TRENDS</text><text class="t" x="4" y="58" style="font-size:8px">82</text><rect class="w" x="39" y="48" width="34" height="10"/><path d="M5 75H68M5 80H68M5 84H68" stroke="#ddd" stroke-width="2"/><path stroke="#111" stroke-width="3" d="M10 158V112M20 158V104M29 158V112M39 158V114M49 158V102M59 158V114M69 158V106"/><path class="l" d="M5 170H70"/><path d="M5 176H72" stroke="#aaa" stroke-width="3"/><path d="M5 182H40M5 186H40M5 190H30" stroke="#555" stroke-width="1.500"/></g>
<g transform="translate(1906,826)"><use href="#fr"/><path class="k" d="M8 13l3 4m0-4l-3 4"/><text class="t" x="30" y="18" textLength="20" lengthAdjust="spacingAndGlyphs">SEIZURE TRENDS</text><use href="#f" x="3" y="28"/><use href="#f" x="3" y="41"/><use href="#f" x="3" y="54"/><use href="#f" x="3" y="67"/><use href="#f" x="3" y="80"/><use href="#f" x="3" y="93"/><use href="#f" x="3" y="106"/><use href="#f" x="3" y="118"/><text class="t" x="4" y="161" style="font-size:8px">82</text><rect class="w" x="40" y="151" width="34" height="10"/><path d="M4 178H70M4 183H70" stroke="#ddd" stroke-width="2"/></g>

<!-- Plan group -->
<g transform="translate(2011,825)"><use href="#fr"/><text class="t" x="5" y="11" textLength="16" lengthAdjust="spacingAndGlyphs">PROGRAM</text><text x="4" y="22" fill="#111" style="font-size:9px" textLength="24" lengthAdjust="spacingAndGlyphs">TODAY</text><path d="M65 19h7m-3.500-3.500v7" stroke="#222" stroke-width="1.600"/><path d="M4 30H72" stroke="#555" stroke-dasharray="3 4" stroke-width="1.500"/><path d="M6 36H72" stroke="#222" stroke-dasharray="1 6" stroke-width="3"/><g class="w"><rect x="11" y="46" width="59" height="17"/><rect x="11" y="63" width="59" height="18"/><rect x="11" y="84" width="59" height="33"/><rect x="11" y="120" width="59" height="17"/><rect x="11" y="145" width="59" height="17"/></g><path class="l" d="M14 50H40M14 56H36M14 90H56M14 96H56M14 104H50M14 110H50"/><path d="M5 45V170" stroke="#bbb"/><use href="#nav"/></g>
<g transform="translate(2103,825)"><use href="#fr"/><text x="6" y="24" style="font-size:11px" fill="#111" textLength="40" lengthAdjust="spacingAndGlyphs">ADD EVENT</text><use href="#f" x="6" y="33"/><text class="t" x="9" y="42" textLength="20" lengthAdjust="spacingAndGlyphs">ADD TITLE</text><path class="l" d="M6 54H68M6 65H68"/><use href="#f" x="6" y="82"/><use href="#f" x="6" y="100"/><use href="#f" x="6" y="119"/><use href="#f" x="6" y="138"/><use href="#f" x="6" y="156"/><text class="t" x="9" y="91" textLength="26" lengthAdjust="spacingAndGlyphs">ADD GUESTS</text><use href="#nav"/></g>
<g transform="translate(2011,1039) scale(.99,.985)"><use href="#fr"/><path d="M0 0H78" stroke="#333" stroke-width="2.400"/><text class="t" x="3" y="17" textLength="14" lengthAdjust="spacingAndGlyphs">CALENDAR</text><path class="l" d="M3 12H72"/><g class="t" style="font-size:5px"><text x="5" y="25" textLength="66" lengthAdjust="spacing">S M T W T F S</text><text x="16" y="38" textLength="8" lengthAdjust="spacingAndGlyphs">JAN</text><text x="16" y="47" textLength="55" lengthAdjust="spacing">1 2 3 4 5 6</text><text x="5" y="62" textLength="66" lengthAdjust="spacing">7 8 9 10 11 12 13</text><text x="5" y="78" textLength="66" lengthAdjust="spacing">14 15 16 17 18 19 20</text><text x="5" y="94" textLength="66" lengthAdjust="spacing">21 22 23 24 25 26 27</text><text x="5" y="110" textLength="26" lengthAdjust="spacing">28 29 30 31</text><text x="44" y="124" textLength="8" lengthAdjust="spacingAndGlyphs">FEB</text><text x="48" y="133" textLength="23" lengthAdjust="spacing">1 2 3</text><text x="5" y="149" textLength="66" lengthAdjust="spacing">4 5 6 7 8 9 10</text><text x="5" y="165" textLength="66" lengthAdjust="spacing">11 12 13 14 15 16 17</text></g><circle cx="38" cy="76" r="4.500" fill="none" stroke="#777" stroke-width="1.200"/></g>

<!-- Community -->
<g transform="translate(2210,826)"><use href="#fr"/><text class="t" x="28" y="20" textLength="22" lengthAdjust="spacingAndGlyphs">COMMUNITY</text><path class="l" d="M6 32H42"/><rect class="w" x="7" y="37" width="32" height="41"/><rect class="w" x="40" y="37" width="32" height="41"/><circle class="k" cx="22" cy="50" r="8"/><circle class="k" cx="56" cy="50" r="8"/><path class="l" d="M10 66H36M44 66H70M10 74H36M44 74H70M6 93H30"/><rect class="w" x="6" y="100" width="66" height="13"/><rect class="w" x="6" y="113" width="66" height="12"/><rect class="w" x="6" y="125" width="66" height="13"/><circle class="k" cx="12" cy="106" r="3.500"/><circle class="k" cx="12" cy="119" r="3.500"/><circle class="k" cx="12" cy="131" r="3.500"/><rect class="w" x="7" y="150" width="31" height="9"/><rect class="w" x="41" y="150" width="31" height="9"/><use href="#nav"/></g>
<g transform="translate(2297,826)"><use href="#fr"/><path d="M0 19H78" stroke="#777" stroke-width="2"/><circle class="k" cx="8" cy="30" r="5"/><rect class="w" x="58" y="24" width="16" height="11"/><path class="l" d="M16 28H40M6 42H66M6 47H50"/><circle class="k" cx="6" cy="70" r="3"/><path class="l" d="M12 70H34"/><rect class="w" x="3" y="81" width="74" height="66"/><use href="#nav"/></g>

<!-- Meditate -->
<g transform="translate(2408,826)"><use href="#fr"/><text class="t" x="16" y="64" textLength="46" lengthAdjust="spacingAndGlyphs">WHATS ON YOUR MIND</text><path class="l" d="M14 62H66M30 72H48"/><use href="#f" x="8" y="76"/><use href="#f" x="8" y="90"/><use href="#f" x="8" y="104"/><use href="#f" x="8" y="117"/><use href="#f" x="8" y="131"/><use href="#f" x="8" y="144"/></g>
<g transform="translate(2493,826)"><use href="#fr"/><text class="t" x="5" y="24" textLength="24" lengthAdjust="spacingAndGlyphs">MEDITATE</text><g class="w"><rect x="4" y="34" width="33" height="15"/><rect x="40" y="34" width="34" height="15"/><rect x="4" y="55" width="33" height="14"/><rect x="40" y="55" width="34" height="14"/></g><text class="t" x="11" y="43" textLength="14" lengthAdjust="spacingAndGlyphs">MORNING</text><text class="t" x="50" y="43" textLength="14" lengthAdjust="spacingAndGlyphs">SLEEP</text><text class="t" x="9" y="64" textLength="20" lengthAdjust="spacingAndGlyphs">BRAIN HEALTH</text><text class="t" x="46" y="64" textLength="16" lengthAdjust="spacingAndGlyphs">RELAX</text><g class="w"><rect x="9" y="80" width="64" height="28"/><rect x="9" y="120" width="64" height="27"/><rect x="9" y="158" width="64" height="29"/><rect x="47" y="84" width="21" height="20"/><rect x="47" y="124" width="21" height="20"/><rect x="47" y="162" width="21" height="22"/></g><path d="M6 88V175" stroke="#bbb"/><circle class="k" cx="15" cy="102" r="3.500"/><circle class="k" cx="15" cy="142" r="3.500"/><circle class="k" cx="15" cy="180" r="3.500"/></g>
<g transform="translate(2577,826)"><use href="#fr"/><rect class="w" x="6" y="9" width="64" height="71"/><text x="5" y="92" fill="#222" style="font-size:9px" textLength="22" lengthAdjust="spacingAndGlyphs">SLEEP</text><circle class="k" cx="63" cy="90" r="7"/><g class="w"><rect x="6" y="105" width="64" height="12"/><rect x="6" y="118" width="64" height="12"/><rect x="6" y="132" width="64" height="12"/><rect x="6" y="144" width="64" height="11"/><rect x="6" y="157" width="64" height="11"/><rect x="6" y="170" width="64" height="12"/></g><rect class="b" x="6" y="96" width="6" height="5"/><rect class="b" x="16" y="96" width="6" height="5"/><rect class="b" x="28" y="96" width="6" height="5"/></g>
<g transform="translate(2577,1033)"><use href="#fr"/><path d="M0 0H78" stroke="#333" stroke-width="2"/><rect class="w" x="6" y="26" width="66" height="72" stroke-width="1.400"/><text class="t" x="32" y="58" textLength="12" lengthAdjust="spacingAndGlyphs">PLAYS</text><text class="t" x="21" y="68" textLength="34" lengthAdjust="spacingAndGlyphs">BREATHE OUT</text><path class="k" d="M10 117l3-2 3 3 3-5 3 6 3-8 3 9 3-13 3 16 3-22 3 22 3-14 3 12 3-8 3 7 3-6 3 5 3-4" stroke-width=".7"/><circle class="k" cx="38" cy="137" r="4"/><circle class="k" cx="38" cy="155" r="9"/><path d="M36 150v10m4-10v10" stroke="#222"/></g>

<!-- Journal -->
<g transform="translate(2722,826)"><use href="#fr"/><path d="M10 17l4 14m0-14l-4 14" class="k" stroke-width="1.300"/><path d="M22 36v8m-3-3 3 3 3-3m-5 6h6" class="k"/><text class="t" x="9" y="71" textLength="58" lengthAdjust="spacingAndGlyphs">HOW DO YOU FEEL</text><text class="t" x="26" y="80" textLength="24" lengthAdjust="spacingAndGlyphs">TODAY?</text><path class="l" d="M7 70H72M7 82H72M7 112H72M7 120H72"/><text class="t" x="28" y="121" textLength="20" lengthAdjust="spacingAndGlyphs">I FEEL</text><text class="t" x="32" y="129" textLength="10" lengthAdjust="spacingAndGlyphs">OK</text><rect x="14" y="132" width="47" height="10" rx="5" fill="#fff" stroke="#555"/><rect x="36" y="132" width="25" height="10" rx="5" fill="#777"/><circle cx="38" cy="137" r="3.500" fill="#111"/></g>
<g transform="translate(2806,826)"><use href="#fr"/><path d="M10 17l4 14m0-14l-4 14" class="k" stroke-width="1.300"/><text class="t" x="28" y="24" textLength="16" lengthAdjust="spacingAndGlyphs">Notes</text><path class="l" d="M5 38H60M5 49H30M5 63H72M5 70H20M5 105H72M5 125H72M5 160H72"/><path class="k" stroke-width=".6" d="M7 57l3-1 3 1 3-1 3 1 3-1 5 1M7 78l3-1 3 1 5-1M7 92l3-1 5 1M7 112l4-1 4 1 4-1 4 1M7 133l4-1 4 1 4-1 4 1 4-1M7 148l4-1 4 1 4-1 4 1"/><g class="b"><rect x="58" y="52" width="14" height="8"/><rect x="58" y="74" width="14" height="8"/><rect x="58" y="88" width="14" height="8"/><rect x="58" y="108" width="14" height="8"/><rect x="58" y="130" width="14" height="8"/><rect x="58" y="145" width="14" height="8"/></g></g>
<g transform="translate(2890,826)"><use href="#fr"/><path d="M8 16H48" stroke="#777" stroke-dasharray="8 5" stroke-width="1.500"/><path d="M24 21h10" stroke="#444"/><path class="l" d="M6 37H44"/><path d="M6 56H72" stroke="#666" stroke-dasharray="6 9" stroke-width="1.500"/><g class="w"><rect x="5" y="63" width="69" height="12"/><rect x="5" y="78" width="69" height="13"/><rect x="5" y="93" width="69" height="13"/><rect x="5" y="109" width="69" height="14"/><rect x="5" y="124" width="69" height="14"/><rect x="5" y="141" width="69" height="13"/></g><path d="M7 71H72" stroke="#888" stroke-width="2"/><path d="M34 71H72M26 87H42M22 102H36" stroke="#111" stroke-width="2.400"/><use href="#nav"/></g>
<g transform="translate(2806,1033)"><use href="#fr"/><path d="M0 0H78" stroke="#333" stroke-width="2"/><path d="M0 29H78" stroke="#888" stroke-width="1.500"/><text class="t" x="24" y="43" textLength="30" lengthAdjust="spacingAndGlyphs">SYMPTOMS JOURNAL</text><path d="M5 51H72" stroke="#888" stroke-dasharray="10 5" stroke-width="1.500"/><path class="k" stroke-width=".6" d="M7 65l3-2 3 1 3-1 3 2 5-1M7 80l4-2 4 0 4 0 6 1 6 1M7 93l4-1 4 0 4 1 6 0 6 2M7 108l4-2 4 2 4-1 8 0M7 122l4-1 4 1 4-2 4 1 6 0 6 0M7 137l4-2 4 0 4 1 4 1 6 0M7 151l4-1 4-1 4 2 4 0 6 0M7 165l4-2 4 1 4-1 4 2 4 0 6 1M7 179l4-1 4 0 4-1 4 1 6 0 4 0"/><g class="b"><circle cx="70" cy="67" r="3.500"/><circle cx="70" cy="81" r="3.500"/><circle cx="70" cy="95" r="3.500"/><circle cx="70" cy="110" r="3.500"/><circle cx="70" cy="124" r="3.500"/><circle cx="70" cy="139" r="3.500"/><circle cx="70" cy="153" r="3.500"/><circle cx="70" cy="167" r="3.500"/><circle cx="70" cy="181" r="3.500"/></g></g>

<!-- Log seizure -->
<g id="log1" transform="translate(3004,829)"><use href="#fr" transform="scale(.97,.98)"/><path class="l" d="M10 18H68"/><text class="t" x="20" y="21" style="font-size:8px" textLength="38" lengthAdjust="spacingAndGlyphs">LOG SEIZURE</text><text class="t" x="6" y="36" textLength="10" lengthAdjust="spacingAndGlyphs">DATE</text><text class="t" x="58" y="36" textLength="10" lengthAdjust="spacingAndGlyphs">TIME</text><text class="t" x="6" y="47" textLength="10" lengthAdjust="spacingAndGlyphs">DATE</text><text class="t" x="58" y="47" textLength="10" lengthAdjust="spacingAndGlyphs">TIME</text><use href="#f" x="4" y="58"/><text class="t" x="8" y="68" textLength="36" lengthAdjust="spacingAndGlyphs">TYPE OF SEIZURE</text><g class="w"><rect x="4" y="75" width="20" height="9"/><rect x="26" y="75" width="20" height="9"/><rect x="49" y="75" width="20" height="9"/><rect x="4" y="104" width="20" height="9"/><rect x="26" y="104" width="20" height="9"/><rect x="49" y="104" width="20" height="9"/><rect x="4" y="135" width="20" height="9"/><rect x="26" y="135" width="20" height="9"/><rect x="49" y="135" width="20" height="9"/></g><use href="#f" x="4" y="90"/><text class="t" x="8" y="99" textLength="24" lengthAdjust="spacingAndGlyphs">KNOWN SYMPTOMS</text><use href="#f" x="4" y="120"/><text class="t" x="8" y="129" textLength="24" lengthAdjust="spacingAndGlyphs">KNOWN TRIGGERS</text><use href="#f" x="4" y="152"/><text class="t" x="8" y="161" textLength="36" lengthAdjust="spacingAndGlyphs">ADDITIONAL COMMENTS</text></g>
<g transform="translate(3088,829)"><use href="#fr"/><path class="l" d="M6 18H70"/><text class="t" x="8" y="21" textLength="62" lengthAdjust="spacingAndGlyphs">TOTAL YOU JUST HAD A SEIZURE</text><text class="t" x="6" y="36" textLength="10" lengthAdjust="spacingAndGlyphs">DATE</text><text class="t" x="60" y="36" textLength="10" lengthAdjust="spacingAndGlyphs">TIME</text><text class="t" x="6" y="47" textLength="10" lengthAdjust="spacingAndGlyphs">DATE</text><text class="t" x="60" y="47" textLength="10" lengthAdjust="spacingAndGlyphs">TIME</text><use href="#f" x="5" y="55"/><text class="t" x="9" y="65" textLength="32" lengthAdjust="spacingAndGlyphs">TYPE OF SEIZURE</text><g class="w"><rect x="5" y="73" width="20" height="8"/><rect x="27" y="73" width="20" height="8"/><rect x="50" y="73" width="20" height="8"/><rect x="6" y="105" width="20" height="8"/><rect x="28" y="105" width="20" height="8"/><rect x="51" y="105" width="20" height="8"/><rect x="5" y="138" width="20" height="8"/><rect x="27" y="138" width="20" height="8"/><rect x="50" y="138" width="20" height="8"/></g><use href="#f" x="6" y="87"/><text class="t" x="10" y="96" textLength="24" lengthAdjust="spacingAndGlyphs">KNOWN SYMPTOMS</text><use href="#f" x="6" y="119"/><text class="t" x="10" y="128" textLength="24" lengthAdjust="spacingAndGlyphs">KNOWN TRIGGERS</text><use href="#f" x="6" y="152"/><text class="t" x="10" y="161" textLength="36" lengthAdjust="spacingAndGlyphs">ADDITIONAL COMMENTS</text></g>
<use href="#log1" transform="translate(0,208)"/>
<g transform="translate(3200,827) scale(1.01,.99)"><use href="#fr"/><path class="k" d="M6 12l2 6m0-6l-2 6"/><path class="l" d="M10 56H70M10 106H72M12 146H70"/><text class="t" x="13" y="58" textLength="50" lengthAdjust="spacingAndGlyphs">SEIZURE PREDICTED</text><circle cx="39" cy="100" r="26" fill="none" stroke="#ccc" stroke-width="1.500"/><path d="M39 74a26 26 0 1 1-18 45" fill="none" stroke="#111" stroke-width="2.400"/><text x="22" y="110" fill="#222" style="font-size:24px" textLength="35" lengthAdjust="spacingAndGlyphs">3:25</text><text class="t" x="27" y="148" textLength="24" lengthAdjust="spacingAndGlyphs">MINUTES</text></g>
</g>

<!-- Color dots -->
<use href="#u" x="657" y="537"/>
<use href="#o" x="650" y="820"/><use href="#o" x="739" y="820"/><use href="#o" x="820" y="820"/><use href="#o" x="927" y="820"/><use href="#o" x="650" y="1032"/><use href="#o" x="736" y="1032"/>
<use href="#o" x="1035" y="819"/><use href="#u" x="1045" y="819"/><use href="#p" x="1057" y="819"/><use href="#o" x="1120" y="819"/><use href="#u" x="1130" y="819"/><use href="#o" x="1207" y="819"/><use href="#u" x="1217" y="819"/>
<use href="#o" x="1324" y="820"/><use href="#u" x="1335" y="820"/><use href="#g" x="1346" y="820"/><use href="#o" x="1416" y="820"/><use href="#u" x="1426" y="820"/><use href="#o" x="1524" y="820"/><use href="#u" x="1534" y="820"/><use href="#g" x="1546" y="820"/><use href="#o" x="1610" y="820"/><use href="#u" x="1620" y="820"/><use href="#o" x="1721" y="820"/><use href="#u" x="1731" y="820"/><use href="#g" x="1743" y="820"/><use href="#o" x="1825" y="820"/><use href="#u" x="1835" y="820"/><use href="#g" x="1848" y="820"/><use href="#o" x="1909" y="820"/><use href="#u" x="1920" y="820"/>
<use href="#o" x="1035" y="1033"/><use href="#u" x="1045" y="1033"/><use href="#p" x="1057" y="1033"/><use href="#o" x="1122" y="1029"/><use href="#o" x="1207" y="1033"/><use href="#o" x="1327" y="1031"/><use href="#u" x="1337" y="1031"/><use href="#g" x="1349" y="1031"/><use href="#o" x="1524" y="1033"/><use href="#u" x="1534" y="1033"/><use href="#g" x="1546" y="1033"/><use href="#o" x="1717" y="1033"/><use href="#u" x="1728" y="1033"/>
<use href="#o" x="2015" y="820"/><use href="#u" x="2027" y="820"/><use href="#o" x="2106" y="820"/><use href="#u" x="2117" y="820"/><use href="#o" x="2219" y="820"/><use href="#u" x="2230" y="820"/><use href="#o" x="2300" y="820"/><use href="#u" x="2311" y="820"/><use href="#o" x="2415" y="820"/><use href="#u" x="2425" y="820"/><use href="#p" x="2437" y="820"/><use href="#o" x="2497" y="820"/><use href="#u" x="2508" y="820"/><use href="#o" x="2579" y="820"/><use href="#u" x="2590" y="820"/><use href="#o" x="2726" y="820"/><use href="#u" x="2737" y="820"/><use href="#p" x="2749" y="820"/><use href="#o" x="2809" y="820"/><use href="#u" x="2820" y="820"/><use href="#o" x="2895" y="819"/><use href="#u" x="2906" y="819"/><use href="#g" x="2919" y="819"/>
<use href="#o" x="2013" y="1031"/><use href="#u" x="2024" y="1031"/><use href="#o" x="2580" y="1026"/><use href="#u" x="2591" y="1026"/><use href="#p" x="2602" y="1026"/><use href="#o" x="2809" y="1026"/><use href="#u" x="2820" y="1026"/>
<use href="#o" x="3005" y="820"/><use href="#u" x="3017" y="820"/><use href="#o" x="3095" y="820"/><use href="#u" x="3106" y="820"/><use href="#g" x="3118" y="820"/><use href="#o" x="3205" y="819"/><use href="#u" x="3216" y="819"/><use href="#p" x="3229" y="819"/><use href="#o" x="3008" y="1031"/><use href="#u" x="3019" y="1031"/>

<!-- Big phones -->
<rect x="1291" y="100" width="252" height="496" fill="#fff"/>
<g transform="translate(1305,114)"><rect width="218" height="473" fill="#fff" stroke="#111" stroke-width="3"/><use href="#seiz"/><path d="M0 0H218M0 473H218" stroke="#111" stroke-width="3.500"/></g>
<g transform="translate(1013,1550)"><rect width="190" height="413" fill="#fff" stroke="#111" stroke-width="3"/><use href="#home"/></g>

<!-- Thick callout connectors -->
<g class="th">
<path d="M1171 276H1363"/><path d="M1495 341H1608"/><path d="M1366 584V845"/><path d="M1051 951V1550"/><path d="M1154 1693H1365"/>
</g>
<circle cx="1363" cy="276" r="10"/><circle cx="1495" cy="341" r="10"/><circle cx="1365" cy="845" r="10"/><circle cx="1051" cy="951" r="10"/><circle cx="1154" cy="1693" r="10"/>
</svg>
</body></html>
